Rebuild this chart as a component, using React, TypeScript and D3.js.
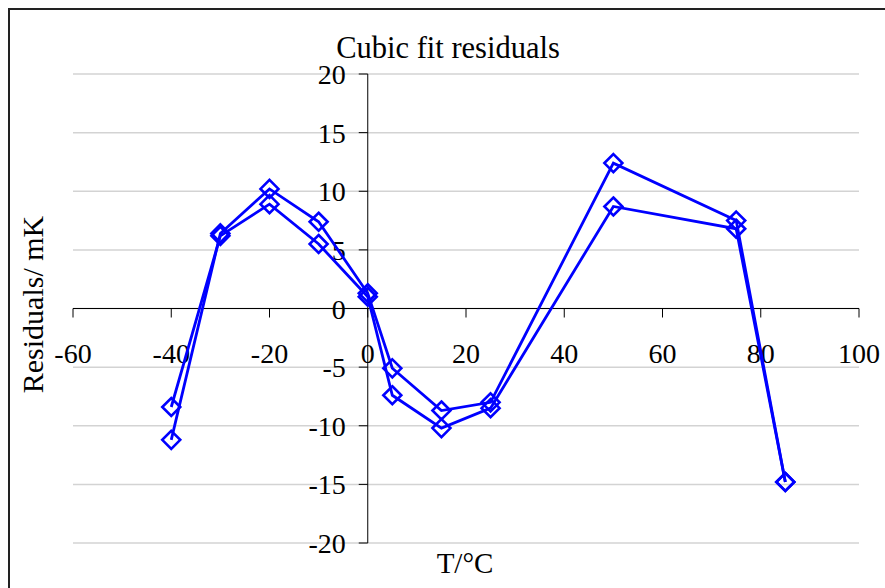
import React from "react";
import * as d3 from "d3";

const temps = [-40, -30, -20, -10, 0, 5, 15, 25, 50, 75, 85];
const residualsA = [-11.2, 6.4, 10.2, 7.4, 1.3, -5.1, -8.7, -8.0, 12.4, 7.5, -14.8];
const residualsB = [-8.4, 6.2, 8.9, 5.5, 1.0, -7.4, -10.2, -8.5, 8.7, 6.8, -14.8];
const xTicks = [-60, -40, -20, 0, 20, 40, 60, 80, 100];
const yTicks = [-20, -15, -10, -5, 0, 5, 10, 15, 20];

const W = 885;
const H = 588;
const FONT = "'Liberation Serif', 'Times New Roman', serif";

export default function App() {
  // page coordinates: the svg is pinned to the top-left so nothing overflows
  const x = d3.scaleLinear().domain([-60, 100]).range([73, 859]);
  const y = d3.scaleLinear().domain([-20, 20]).range([543, 74]);

  const line = d3
    .line<[number, number]>()
    .x(d => x(d[0]))
    .y(d => y(d[1]));

  const series = [residualsA, residualsB].map(vals => temps.map((t, i) => [t, vals[i]] as [number, number]));
  const x0 = x(0);
  const y0 = y(0);
  const m = 9;

  return (
    <div style={{ position: "fixed", left: 0, top: 0, width: W, height: H }}>
      <svg width={W} height={H} style={{ display: "block" }}>
        <rect x={0} y={0} width={W} height={H} fill="white" />
        <rect x={9} y={9} width={2000} height={2000} fill="white" stroke="#222" strokeWidth={2} />

        {/* gridlines */}
        {yTicks.map(t => (
          <line key={"g" + t} x1={x(-60)} x2={x(100)} y1={y(t)} y2={y(t)} stroke="#d3d3d3" strokeWidth={1.5} />
        ))}

        {/* axes */}
        <line x1={x(-60)} x2={x(100)} y1={y0} y2={y0} stroke="#000" strokeWidth={1} />
        <line x1={x0} x2={x0} y1={y(20)} y2={y(-20)} stroke="#000" strokeWidth={1} />
        {xTicks.map(t => (
          <g key={"x" + t}>
            <line x1={x(t)} x2={x(t)} y1={y0} y2={y0 + 9} stroke="#000" strokeWidth={1} />
            <text x={x(t)} y={y0 + 54} textAnchor="middle" fontFamily={FONT} fontSize={28} fill="#000">
              {t}
            </text>
          </g>
        ))}
        {yTicks.map(t => (
          <g key={"y" + t}>
            <line x1={x0 - 9} x2={x0} y1={y(t)} y2={y(t)} stroke="#000" strokeWidth={1} />
            <text x={x0 - 22} y={y(t) + 10} textAnchor="end" fontFamily={FONT} fontSize={28} fill="#000">
              {t}
            </text>
          </g>
        ))}

        {/* series */}
        {series.map((pts, si) => (
          <g key={"s" + si}>
            <path d={line(pts) ?? ""} fill="none" stroke="#0000ff" strokeWidth={2.8} />
            {pts.map((p, i) => (
              <path
                key={i}
                d={`M${x(p[0])},${y(p[1]) - m}L${x(p[0]) + m},${y(p[1])}L${x(p[0])},${y(p[1]) + m}L${x(p[0]) - m},${y(p[1])}Z`}
                fill="none"
                stroke="#0000ff"
                strokeWidth={2.6}
              />
            ))}
          </g>
        ))}

        {/* titles */}
        <text x={448} y={58} textAnchor="middle" fontFamily={FONT} fontSize={30.5} fill="#000">
          Cubic fit residuals
        </text>
        <text x={465} y={573} textAnchor="middle" fontFamily={FONT} fontSize={29} fill="#000">
          T/°C
        </text>
        <text
          transform={`translate(43,${y0 - 4}) rotate(-90)`}
          textAnchor="middle"
          fontFamily={FONT}
          fontSize={30}
          fill="#000"
        >
          Residuals/ mK
        </text>
      </svg>
    </div>
  );
}
